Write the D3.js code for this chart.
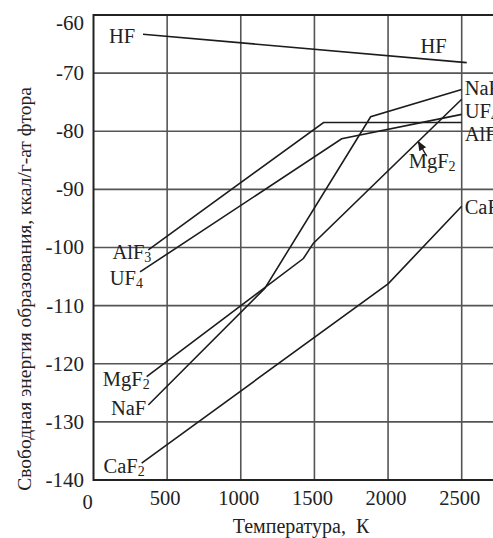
<!DOCTYPE html>
<html><head><meta charset="utf-8">
<script src="https://cdn.jsdelivr.net/npm/d3@7"></script>
<style>
body{margin:0;background:#fff;}
svg{display:block;}
text{font-family:"Liberation Serif","Times New Roman",serif;fill:#222;white-space:pre;}
</style>
</head><body>
<svg id="c" width="493" height="538"></svg>
<script>
// ---- data ----
const xTicks = [0, 500, 1000, 1500, 2000, 2500];
const yTicks = [-60, -70, -80, -90, -100, -110, -120, -130, -140];

const hfT   = [336, 2534];               const hfV   = [-63.3, -68.2];
const alf3T = [372, 1562, 2500];         const alf3V = [-100.4, -78.5, -78.5];
const uf4T  = [316, 1685, 2500];         const uf4V  = [-104.2, -81.3, -77.1];
const nafT  = [372, 1164, 1882, 2500];   const nafV  = [-127.1, -107.0, -77.5, -72.8];
const mgf2T = [361, 1425, 1492, 2500];   const mgf2V = [-122.2, -101.9, -99.3, -74.5];
const caf2T = [327, 2002, 2500];         const caf2V = [-137.1, -106.2, -92.9];

const seriesNames = ["HF", "AlF3", "UF4", "NaF", "MgF2", "CaF2"];
const labelMain   = ["HF", "AlF", "UF", "NaF", "MgF", "CaF"];
const labelSub    = ["", "3", "4", "", "2", "2"];

const xTitle = "Температура,  К";
const yTitle = "Свободная энергия образования, ккал/г-ат фтора";

// ---- build ----
const svg = d3.select("#c");
const W = 493, H = 538;
const x = d3.scaleLinear().domain([0, 2500]).range([93.5, 461.7]);
const y = d3.scaleLinear().domain([-60, -140]).range([15, 480]);
const xMax = x.invert(W + 10);

const series = [
  {T: hfT, V: hfV}, {T: alf3T, V: alf3V}, {T: uf4T, V: uf4V},
  {T: nafT, V: nafV}, {T: mgf2T, V: mgf2V}, {T: caf2T, V: caf2V}
].map((s, i) => ({name: seriesNames[i], main: labelMain[i], sub: labelSub[i],
                  pts: s.T.map((t, j) => [t, s.V[j]])}));

// grid
const g = svg.append("g");
g.selectAll("line.v").data(xTicks.slice(1)).join("line")
  .attr("x1", d => x(d)).attr("x2", d => x(d))
  .attr("y1", y(-60)).attr("y2", y(-140))
  .attr("stroke", "#555").attr("stroke-width", 1.6);
g.selectAll("line.h").data(yTicks.slice(1, -1)).join("line")
  .attr("x1", x(0)).attr("x2", x(xMax))
  .attr("y1", d => y(d)).attr("y2", d => y(d))
  .attr("stroke", "#555").attr("stroke-width", 1.6);

// frame (right side runs off the picture)
const frame = d3.path();
frame.moveTo(x(xMax), y(-60)); frame.lineTo(x(0), y(-60));
frame.lineTo(x(0), y(-140)); frame.lineTo(x(xMax), y(-140));
svg.append("path").attr("d", frame.toString()).attr("fill", "none")
  .attr("stroke", "#222").attr("stroke-width", 2);

// axes tick labels
svg.append("g").selectAll("text").data(yTicks).join("text")
  .attr("x", 84).attr("y", d => y(d) + (d === yTicks[0] ? 8 : 0))
  .attr("dy", "0.33em").attr("text-anchor", "end")
  .attr("font-size", 21).text(d => d);
svg.append("g").selectAll("text").data(xTicks).join("text")
  .attr("x", d => x(d) + (d === 0 ? -6 : -2))
  .attr("y", d => d === 0 ? 509 : 505)
  .attr("text-anchor", "middle").attr("font-size", 20.5).text(d => d);

// axis titles
svg.append("text").attr("x", 301).attr("y", 533).attr("text-anchor", "middle")
  .attr("font-size", 20).text(xTitle);
svg.append("text").attr("transform", "translate(31,289) rotate(-90)")
  .attr("text-anchor", "middle").attr("font-size", 19.5).text(yTitle);

// data lines
const line = d3.line().x(d => x(d[0])).y(d => y(d[1]));
svg.append("g").selectAll("path").data(series).join("path")
  .attr("d", d => line(d.pts)).attr("fill", "none")
  .attr("stroke", "#1c1c1c").attr("stroke-width", 1.6);

// labels
function label(sel, s, px, py, anchor) {
  const t = sel.append("text").attr("x", px).attr("y", py)
    .attr("text-anchor", anchor).attr("font-size", 20.5);
  t.append("tspan").text(s.main);
  if (s.sub) t.append("tspan").attr("font-size", 14).attr("dy", 3).text(s.sub);
}
const lab = svg.append("g");
// left labels: at first point of each series
const leftDy = {AlF3: 9, UF4: 13, NaF: 10, MgF2: 9, CaF2: 10};
series.forEach(s => {
  const p = s.pts[0];
  if (s.name === "HF") {
    label(lab, s, x(p[0]) - 34, y(p[1]) + 9, "start");
  } else {
    label(lab, s, x(p[0]) + (s.sub ? 3 : -2), y(p[1]) + leftDy[s.name], "end");
  }
});
// right labels: at last point
const rightDy = {NaF: 6, UF4: 4, AlF3: 18, CaF2: 8};
series.forEach(s => {
  const p = s.pts[s.pts.length - 1];
  if (rightDy[s.name] !== undefined) label(lab, s, x(2500) + 3, y(p[1]) + rightDy[s.name], "start");
});
// in-plot labels: HF above line, MgF2 with arrow
const hf = series[0], mg = series[4];
label(lab, hf, x(2220), y(-66.5), "start");
label(lab, mg, x(2140), y(-86.4), "start");

// arrow for MgF2
const arrowFrom = [2263, -84.3], arrowTo = [2205, -81.8];
svg.append("defs").append("marker").attr("id", "ah")
  .attr("viewBox", "0 0 10 10").attr("refX", 9).attr("refY", 5)
  .attr("markerWidth", 7).attr("markerHeight", 7).attr("orient", "auto")
  .append("path").attr("d", "M0,1 L10,5 L0,9 Z").attr("fill", "#1c1c1c");
svg.append("line")
  .attr("x1", x(arrowFrom[0])).attr("y1", y(arrowFrom[1]))
  .attr("x2", x(arrowTo[0])).attr("y2", y(arrowTo[1]))
  .attr("stroke", "#1c1c1c").attr("stroke-width", 1.4).attr("marker-end", "url(#ah)");
</script>
</body></html>
